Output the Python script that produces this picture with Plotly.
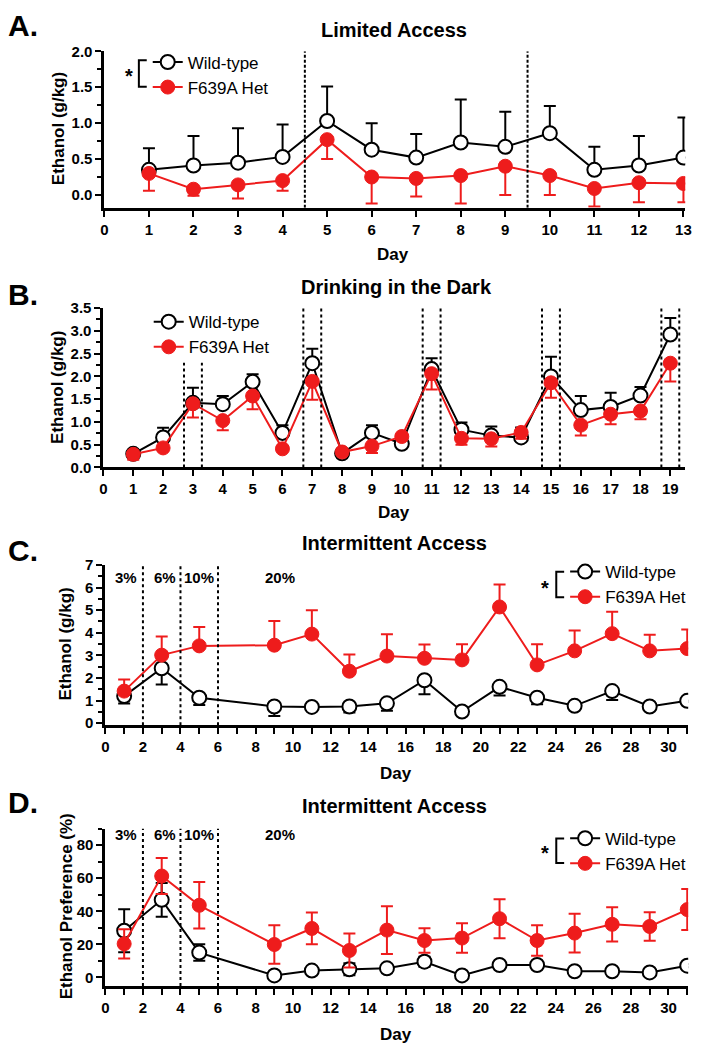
import plotly.graph_objects as go

W, H = 707, 1055
FONT = "Liberation Sans, Arial, sans-serif"
RED = "#ee1c1c"
BLACK = "#000000"

# ---------------- Data ----------------
# A. Limited Access
a_days = list(range(1, 14))
a_wt = [0.35, 0.41, 0.45, 0.53, 1.03, 0.63, 0.52, 0.73, 0.67, 0.86, 0.35, 0.41, 0.52]
a_wt_err = [0.30, 0.41, 0.48, 0.45, 0.48, 0.37, 0.33, 0.60, 0.49, 0.38, 0.32, 0.41, 0.56]
a_het = [0.30, 0.08, 0.14, 0.20, 0.77, 0.25, 0.23, 0.27, 0.40, 0.27, 0.09, 0.17, 0.16]
a_het_err = [0.24, 0.09, 0.19, 0.14, 0.27, 0.37, 0.25, 0.39, 0.40, 0.27, 0.25, 0.27, 0.26]
a_vlines = [4.5, 9.5]

# B. Drinking in the Dark
b_days = list(range(1, 20))
b_wt = [0.30, 0.66, 1.42, 1.39, 1.88, 0.76, 2.29, 0.31, 0.76, 0.52, 2.16, 0.83, 0.70, 0.66, 2.00, 1.26, 1.33, 1.58, 2.92]
b_wt_err = [0.03, 0.21, 0.33, 0.18, 0.17, 0.17, 0.32, 0.03, 0.17, 0.05, 0.24, 0.16, 0.20, 0.22, 0.43, 0.31, 0.31, 0.19, 0.36]
b_het = [0.29, 0.43, 1.40, 1.03, 1.57, 0.41, 1.89, 0.34, 0.47, 0.68, 2.06, 0.64, 0.63, 0.77, 1.86, 0.93, 1.17, 1.24, 2.29]
b_het_err = [0.12, 0.05, 0.30, 0.21, 0.29, 0.05, 0.40, 0.04, 0.15, 0.05, 0.35, 0.14, 0.17, 0.14, 0.33, 0.23, 0.22, 0.18, 0.40]
b_vlines = [2.7, 3.3, 6.7, 7.3, 10.7, 11.3, 14.7, 15.3, 18.7, 19.3]
b_vline_tops = [2.3, 2.3, 3.5, 3.5, 3.5, 3.5, 3.5, 3.5, 3.5, 3.5]

# C. Intermittent Access (g/kg)
c_days = [1, 3, 5, 9, 11, 13, 15, 17, 19, 21, 23, 25, 27, 29, 31]
c_wt = [1.20, 2.43, 1.13, 0.74, 0.72, 0.74, 0.88, 1.90, 0.52, 1.61, 1.13, 0.77, 1.42, 0.74, 0.99]
c_wt_err = [0.33, 0.72, 0.32, 0.42, 0.05, 0.26, 0.33, 0.62, 0.05, 0.38, 0.29, 0.05, 0.39, 0.05, 0.05]
c_het = [1.42, 3.01, 3.42, 3.45, 3.94, 2.30, 2.97, 2.87, 2.80, 5.14, 2.58, 3.20, 3.96, 3.20, 3.30]
c_het_err = [0.51, 0.83, 0.83, 1.07, 1.06, 0.74, 0.96, 0.61, 0.69, 0.99, 0.91, 0.90, 0.97, 0.71, 0.84]

# D. Intermittent Access (preference %)
d_days = [1, 3, 5, 9, 11, 13, 15, 17, 19, 21, 23, 25, 27, 29, 31]
d_wt = [28.2, 46.9, 15.0, 1.2, 4.1, 4.9, 5.5, 9.5, 1.2, 7.5, 7.5, 3.7, 3.7, 3.0, 7.1]
d_wt_err = [13.0, 10.2, 5.0, 1.0, 1.0, 3.6, 1.0, 3.0, 1.0, 1.0, 1.0, 1.0, 1.0, 1.0, 1.0]
d_het = [20.3, 61.3, 43.6, 19.9, 29.6, 16.3, 28.6, 22.3, 23.8, 35.5, 22.3, 26.8, 32.1, 30.8, 41.0]
d_het_err = [8.8, 10.9, 14.1, 11.6, 9.6, 10.3, 14.4, 7.4, 8.9, 11.8, 9.2, 11.7, 10.4, 8.6, 12.4]

conc_vlines = [2, 4, 6]
conc_labels = ["3%", "6%", "10%", "20%"]
conc_label_x = [1.1, 3.15, 5.0, 9.3]

# ---------------- Layout helpers ----------------
def dx(p0, p1):
    return [p0 / W, p1 / W]

def dy(top, bottom):
    return [1 - bottom / H, 1 - top / H]

def px_x(p):
    return p / W

def px_y(p):
    return 1 - p / H

fig = go.Figure()

def add_pair(xs, wt, wt_err, het, het_err, ax, legend, wt_up=True, het_up=False, sym=False):
    n = len(xs)
    zeros = [0] * n
    if sym:
        wt_e = dict(type="data", symmetric=True, array=wt_err)
        het_e = dict(type="data", symmetric=True, array=het_err)
    else:
        wt_e = dict(type="data", symmetric=False,
                    array=wt_err if wt_up else zeros,
                    arrayminus=zeros if wt_up else wt_err)
        het_e = dict(type="data", symmetric=False,
                     array=het_err if het_up else zeros,
                     arrayminus=zeros if het_up else het_err)
    wt_e.update(color=BLACK, thickness=2, width=6)
    het_e.update(color=RED, thickness=2, width=6)
    xa = "x" if ax == 1 else f"x{ax}"
    ya = "y" if ax == 1 else f"y{ax}"
    fig.add_trace(go.Scatter(
        x=xs, y=wt, mode="lines+markers", name="Wild-type",
        line=dict(color=BLACK, width=2),
        marker=dict(symbol="circle", size=14, color="white", line=dict(color=BLACK, width=2)),
        error_y=wt_e, xaxis=xa, yaxis=ya, legend=legend, legendgroup=f"wt{ax}"))
    fig.add_trace(go.Scatter(
        x=xs, y=het, mode="lines+markers", name="F639A Het",
        line=dict(color=RED, width=2),
        marker=dict(symbol="circle", size=14, color=RED, line=dict(color=RED, width=1)),
        error_y=het_e, xaxis=xa, yaxis=ya, legend=legend, legendgroup=f"het{ax}"))

add_pair(a_days, a_wt, a_wt_err, a_het, a_het_err, 1, "legend", wt_up=True, het_up=False)
add_pair(b_days, b_wt, b_wt_err, b_het, b_het_err, 2, "legend2", wt_up=True, het_up=False)
add_pair(c_days, c_wt, c_wt_err, c_het, c_het_err, 3, "legend3", wt_up=False, het_up=True)
add_pair(d_days, d_wt, d_wt_err, d_het, d_het_err, 4, "legend4", sym=True)

tickfont = dict(family=FONT, size=15, color=BLACK, weight="bold")
axis_common = dict(showline=True, linewidth=3, linecolor=BLACK, ticks="outside",
                   tickwidth=2, ticklen=6, tickcolor=BLACK, showgrid=False,
                   zeroline=False, tickfont=tickfont, fixedrange=True)
minor_y = dict(ticklen=4, tickwidth=2, tickcolor=BLACK, ticks="outside", showgrid=False)

layout = dict(
    width=W, height=H, margin=dict(l=0, r=0, t=0, b=0),
    paper_bgcolor="white", plot_bgcolor="white",
    font=dict(family=FONT, color=BLACK),
    showlegend=True,
)

# Panel A axes
layout["xaxis"] = dict(axis_common, domain=dx(102, 692), range=[0, 13.04], anchor="y",
                       tickmode="linear", tick0=0, dtick=1)
layout["yaxis"] = dict(axis_common, domain=dy(43, 202), range=[-0.178, 2.0], anchor="x",
                       tickmode="linear", tick0=0, dtick=0.5, tickformat=".1f",
                       minor=dict(minor_y, tick0=0, dtick=0.25))
# Panel B axes
layout["xaxis2"] = dict(axis_common, domain=dx(101, 692), range=[0, 19.5], anchor="y2",
                        tickmode="linear", tick0=0, dtick=1)
layout["yaxis2"] = dict(axis_common, domain=dy(304, 466), range=[0, 3.5], anchor="x2",
                        tickmode="linear", tick0=0, dtick=0.5, tickformat=".1f",
                        minor=dict(minor_y, tick0=0, dtick=0.25))
# Panel C axes
layout["xaxis3"] = dict(axis_common, domain=dx(103, 695), range=[0, 31.05], anchor="y3",
                        tickmode="linear", tick0=0, dtick=2,
                        minor=dict(tick0=0, dtick=1, ticklen=6, tickwidth=2, tickcolor=BLACK, ticks="outside"))
layout["yaxis3"] = dict(axis_common, domain=dy(565, 728), range=[-0.09, 7], anchor="x3",
                        tickmode="linear", tick0=0, dtick=1,
                        minor=dict(minor_y, tick0=0, dtick=0.5))
# Panel D axes
layout["xaxis4"] = dict(axis_common, domain=dx(103, 695), range=[0, 31.05], anchor="y4",
                        tickmode="linear", tick0=0, dtick=2,
                        minor=dict(tick0=0, dtick=1, ticklen=6, tickwidth=2, tickcolor=BLACK, ticks="outside"))
layout["yaxis4"] = dict(axis_common, domain=dy(833, 993), range=[-5.2, 90], anchor="x4",
                        tickmode="linear", tick0=0, dtick=20,
                        minor=dict(minor_y, tick0=0, dtick=10))

leg_common = dict(xref="paper", yref="paper", xanchor="left", yanchor="top",
                  bgcolor="rgba(0,0,0,0)", borderwidth=0,
                  font=dict(family=FONT, size=17, color=BLACK),
                  tracegroupgap=13, itemwidth=30, traceorder="normal")
layout["legend"] = dict(leg_common, x=px_x(146), y=px_y(36))
layout["legend2"] = dict(leg_common, x=px_x(147), y=px_y(300))
layout["legend3"] = dict(leg_common, x=px_x(570), y=px_y(554))
layout["legend4"] = dict(leg_common, x=px_x(570), y=px_y(825))

fig.update_layout(**layout)

# ---------------- Vertical divider lines ----------------
shapes = []
for xv in a_vlines:
    shapes.append(dict(type="line", xref="x", yref="y", x0=xv, x1=xv, y0=-0.178, y1=2.0,
                       line=dict(color=BLACK, width=2, dash="3px,2px")))
for xv, top in zip(b_vlines, b_vline_tops):
    shapes.append(dict(type="line", xref="x2", yref="y2", x0=xv, x1=xv, y0=0, y1=top,
                       line=dict(color=BLACK, width=2, dash="dot")))
for xv in conc_vlines:
    shapes.append(dict(type="line", xref="x3", yref="y3", x0=xv, x1=xv, y0=-0.09, y1=7,
                       line=dict(color=BLACK, width=2, dash="dot")))
    shapes.append(dict(type="line", xref="x4", yref="y4", x0=xv, x1=xv, y0=-5.2, y1=90,
                       line=dict(color=BLACK, width=2, dash="dot")))

# significance brackets
def bracket(xv, xt, y0, y1):
    return dict(type="path", xref="paper", yref="paper",
                path=f"M {px_x(xt)} {px_y(y0)} L {px_x(xv)} {px_y(y0)} L {px_x(xv)} {px_y(y1)} L {px_x(xt)} {px_y(y1)}",
                line=dict(color=BLACK, width=2))

shapes.append(bracket(137, 145, 52, 79))
shapes.append(bracket(561, 569, 572, 598))
shapes.append(bracket(561, 569, 843, 868))
fig.update_layout(shapes=shapes)

# ---------------- Text ----------------
ann = []
def txt(x, y, s, size, bold=True, angle=0, xanchor="center"):
    ann.append(dict(x=px_x(x), y=px_y(y), xref="paper", yref="paper", text=s, showarrow=False,
                    font=dict(family=FONT, size=size, color=BLACK, weight="bold" if bold else "normal"),
                    textangle=angle, xanchor=xanchor, yanchor="middle"))

# panel letters
txt(2, 17, "A.", 30, xanchor="left")
txt(2, 290, "B.", 30, xanchor="left")
txt(2, 550, "C.", 30, xanchor="left")
txt(2, 806, "D.", 30, xanchor="left")
# titles
txt(396, 21, "Limited Access", 20)
txt(399, 283, "Drinking in the Dark", 20)
txt(397, 543, "Intermittent Access", 20)
txt(397, 810, "Intermittent Access", 20)
# x titles
txt(395, 250, "Day", 17)
txt(396, 512, "Day", 17)
txt(398, 777, "Day", 17)
txt(398, 1042, "Day", 17)
# y titles
txt(55, 122, "Ethanol (g/kg)", 17, angle=-90)
txt(55, 385, "Ethanol (g/kg)", 17, angle=-90)
txt(63, 646, "Ethanol (g/kg)", 17, angle=-90)
txt(63, 912, "Ethanol Preference (%)", 17, angle=-90)
# asterisks
txt(127, 68, "*", 20)
txt(550, 588, "*", 20)
txt(550, 858, "*", 20)

# concentration labels (data coords)
for lbl, xv in zip(conc_labels, conc_label_x):
    ann.append(dict(x=xv, y=6.43, xref="x3", yref="y3", text=lbl, showarrow=False,
                    font=dict(family=FONT, size=15, color=BLACK, weight="bold")))
    ann.append(dict(x=xv, y=86.6, xref="x4", yref="y4", text=lbl, showarrow=False,
                    font=dict(family=FONT, size=15, color=BLACK, weight="bold")))

fig.update_layout(annotations=ann)

fig.write_html("out.html",
               config={"displayModeBar": False, "staticPlot": True},
               post_script="document.body.style.margin='0';document.body.style.padding='0';"
                           "document.documentElement.style.overflow='hidden';")
